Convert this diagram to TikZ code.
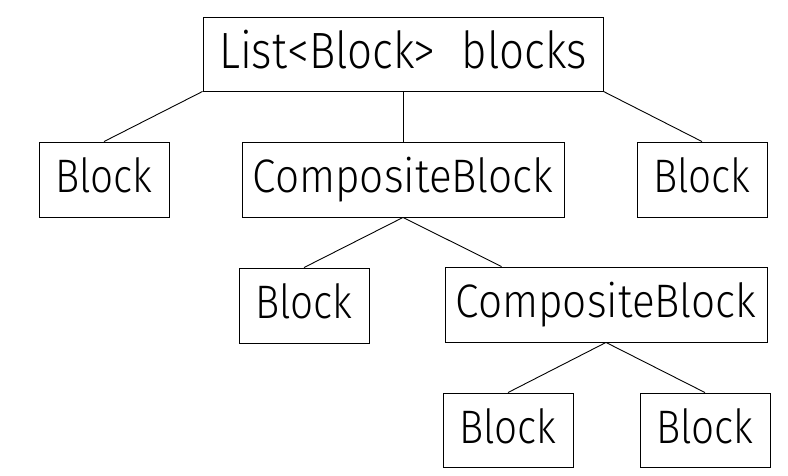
\documentclass[tikz,border=0pt]{standalone}
\usepackage{fontspec}
\setmainfont{Fira Sans}[UprightFont=* Light, FakeStretch=0.86]
\newfontfamily\cbfont{Fira Sans}[UprightFont=* Light, FakeStretch=0.9]
\usetikzlibrary{calc}
\begin{document}
\begin{tikzpicture}[x=1pt,y=-1pt,
  box/.style={draw, line width=0.9pt, rectangle, inner sep=0pt, minimum height=75pt,
    text height=34pt, text depth=8pt, font=\fontsize{47}{50}\selectfont},
  small/.style={box, minimum width=130pt},
  wide/.style={box, minimum width=322pt, font=\cbfont\fontsize{47}{50}\selectfont},
  link/.style={line width=0.9pt}]
\useasboundingbox (0,0) rectangle (788,475);
\node[box, minimum width=400pt, minimum height=74pt, text height=36.5pt, text depth=8.5pt,
  font=\fontsize{51}{55}\selectfont] (top) at (403,54) {List<Block>\hspace{14pt} blocks};
\node[small] (b1) at (104,179.5) {Block};
\node[wide] (cb1) at (403,179.5) {CompositeBlock};
\node[small] (b5) at (702,179.5) {Block};
\node[small] (b2) at (304,305.5) {Block};
\node[wide] (cb2) at (606,304.5) {CompositeBlock};
\node[small, minimum height=74pt] (b3) at (508,430) {Block};
\node[small, minimum height=74pt] (b4) at (705,430) {Block};
\coordinate (cb2in) at ($(cb2.north west)+(57,0)$);
\draw[link] (top.south west) -- (b1.north);
\draw[link] (top.south) -- (cb1.north);
\draw[link] (top.south east) -- (b5.north);
\draw[link] (cb1.south) -- (b2.north);
\draw[link] (cb1.south) -- (cb2in);
\draw[link] (cb2.south) -- (b3.north);
\draw[link] (cb2.south) -- (b4.north);
\end{tikzpicture}
\end{document}
